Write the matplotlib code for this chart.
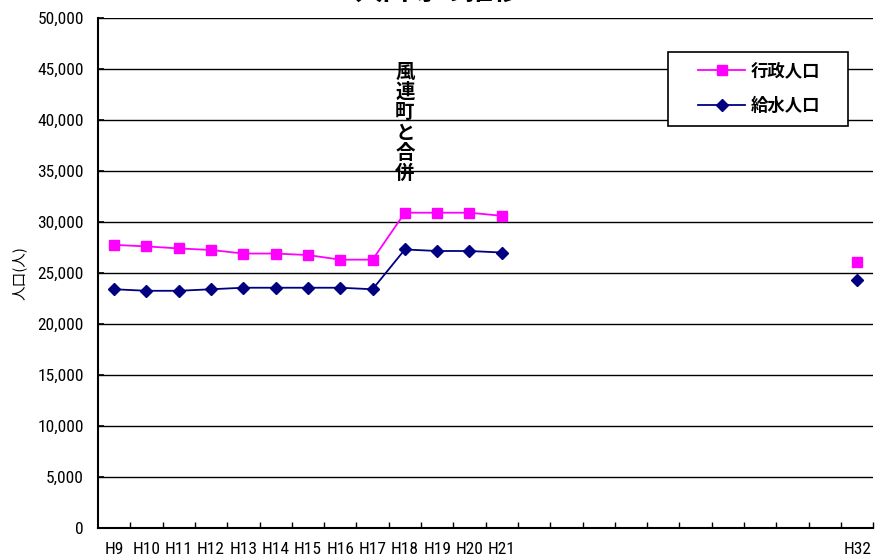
import numpy as np
import matplotlib.pyplot as plt
from matplotlib.patches import Rectangle
from matplotlib.ticker import FuncFormatter, MultipleLocator

plt.rcParams['font.family'] = ['Noto Sans CJK JP', 'DejaVu Sans']
narrow = ['Roboto Condensed', 'Noto Sans CJK JP']

years = ['H9', 'H10', 'H11', 'H12', 'H13', 'H14', 'H15', 'H16', 'H17', 'H18',
         'H19', 'H20', 'H21', 'H22', 'H23', 'H24', 'H25', 'H26', 'H27', 'H28',
         'H29', 'H30', 'H31', 'H32']
shown_labels = ['H9', 'H10', 'H11', 'H12', 'H13', 'H14', 'H15', 'H16', 'H17',
                'H18', 'H19', 'H20', 'H21', 'H32']

nan = np.nan
gyosei = [27750, 27600, 27400, 27250, 26900, 26900, 26750, 26300, 26300, 30900,
          30900, 30900, 30600, nan, nan, nan, nan, nan, nan, nan,
          nan, nan, nan, 26100]
kyusui = [23400, 23250, 23250, 23400, 23550, 23550, 23550, 23550, 23400, 27300,
          27150, 27150, 27000, nan, nan, nan, nan, nan, nan, nan,
          nan, nan, nan, 24300]

x = np.arange(len(years))

fig = plt.figure(figsize=(8.75, 5.57), dpi=100)
ax = fig.add_axes([0.112, 0.052, 0.886, 0.916])

ax.plot(x, gyosei, color='#FF00FF', lw=1.3, marker='s', ms=7.5,
        mec='#FF00FF', label='行政人口')
ax.plot(x, kyusui, color='#000080', lw=1.3, marker='D', ms=6.5,
        mec='#000080', label='給水人口')

ax.set_xlim(-0.5, len(years) - 0.5)
ax.set_ylim(0, 50000)
ax.yaxis.set_major_locator(MultipleLocator(5000))
ax.yaxis.set_major_formatter(FuncFormatter(lambda v, p: '{:,.0f}'.format(v)))
ax.grid(axis='y', color='black', lw=1)
ax.set_axisbelow(True)

ax.set_xticks(x)
ax.set_xticklabels([y if y in shown_labels else '' for y in years])
ax.set_xticks(np.arange(len(years)) + 0.5, minor=True)
ax.tick_params(axis='x', which='major', length=0, pad=10)
ax.tick_params(axis='x', which='minor', direction='in', length=4, width=1)
ax.tick_params(axis='y', direction='in', length=4, width=1.2, pad=10)
for lab in ax.get_xticklabels() + ax.get_yticklabels():
    lab.set_family(narrow)
    lab.set_fontsize(12.5)

for s in ['top', 'right']:
    ax.spines[s].set_visible(False)
for s in ['left', 'bottom']:
    ax.spines[s].set_linewidth(1.5)

ax.set_ylabel('人口(人)', fontsize=10.5)
ax.yaxis.set_label_coords(-0.092, 0.5)

# merger note, stacked vertically
ax.text(9.0, 45600, '\n'.join('風連町と合併'), ha='center', va='top',
        fontsize=14, fontweight='bold', linespacing=1.08)

# legend box drawn separately so the entries sit centred inside it
ax.add_patch(Rectangle((0.735, 0.788), 0.232, 0.145, transform=ax.transAxes,
                       facecolor='white', edgecolor='black', lw=1.2, zorder=3))
leg = ax.legend(loc='center', bbox_to_anchor=(0.853, 0.861), frameon=False,
                prop={'size': 12.5, 'weight': 'bold'}, handlelength=2.7,
                handletextpad=0.35, labelspacing=1.0, borderaxespad=0)
leg.set_zorder(4)

fig.text(0.5, 0.99, '人口等の推移', ha='center', va='bottom',
         fontsize=20, fontweight='bold')

fig.savefig('out.png', dpi=100)
